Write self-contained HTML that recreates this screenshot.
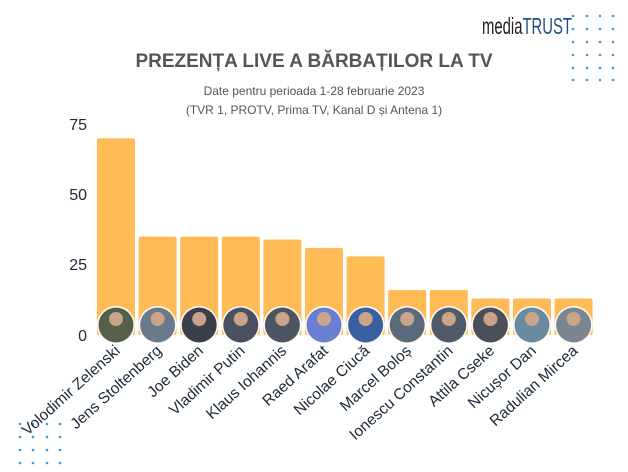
<!DOCTYPE html>
<html><head><meta charset="utf-8"><style>
body{margin:0;background:#fff}
svg{display:block}
</style></head><body>
<svg width="628" height="472" viewBox="0 0 628 472" xmlns="http://www.w3.org/2000/svg" font-family="Liberation Sans, sans-serif">
<rect width="628" height="472" fill="#fff"/>
<text x="482" y="34" font-size="23" textLength="90" lengthAdjust="spacingAndGlyphs"><tspan fill="#222">media</tspan><tspan fill="#1f4e8c">TRUST</tspan></text>
<g fill="#3a9ad9">
<circle cx="573" cy="16" r="1.3"/><circle cx="587" cy="16" r="1.3"/><circle cx="600" cy="16" r="1.3"/><circle cx="613" cy="16" r="1.3"/>
<circle cx="573" cy="29" r="1.3"/><circle cx="587" cy="29" r="1.3"/><circle cx="600" cy="29" r="1.3"/><circle cx="613" cy="29" r="1.3"/>
<circle cx="573" cy="42" r="1.3"/><circle cx="587" cy="42" r="1.3"/><circle cx="600" cy="42" r="1.3"/><circle cx="613" cy="42" r="1.3"/>
<circle cx="573" cy="55" r="1.3"/><circle cx="587" cy="55" r="1.3"/><circle cx="600" cy="55" r="1.3"/><circle cx="613" cy="55" r="1.3"/>
<circle cx="573" cy="68" r="1.3"/><circle cx="587" cy="68" r="1.3"/><circle cx="600" cy="68" r="1.3"/><circle cx="613" cy="68" r="1.3"/>
<circle cx="573" cy="80" r="1.3"/><circle cx="587" cy="80" r="1.3"/><circle cx="600" cy="80" r="1.3"/><circle cx="613" cy="80" r="1.3"/>
<circle cx="20" cy="424" r="1.3"/><circle cx="33" cy="424" r="1.3"/><circle cx="47" cy="424" r="1.3"/><circle cx="60" cy="424" r="1.3"/>
<circle cx="20" cy="437" r="1.3"/><circle cx="33" cy="437" r="1.3"/><circle cx="47" cy="437" r="1.3"/><circle cx="60" cy="437" r="1.3"/>
<circle cx="20" cy="450" r="1.3"/><circle cx="33" cy="450" r="1.3"/><circle cx="47" cy="450" r="1.3"/><circle cx="60" cy="450" r="1.3"/>
<circle cx="20" cy="463" r="1.3"/><circle cx="33" cy="463" r="1.3"/><circle cx="47" cy="463" r="1.3"/><circle cx="60" cy="463" r="1.3"/>
</g>
<text x="314" y="67" text-anchor="middle" font-size="19" font-weight="bold" fill="#555">PREZENȚA LIVE A BĂRBAȚILOR LA TV</text>
<text x="314" y="95" text-anchor="middle" font-size="12" fill="#555">Date pentru perioada 1-28 februarie 2023</text>
<text x="314" y="114" text-anchor="middle" font-size="12" fill="#555">(TVR 1, PROTV, Prima TV, Kanal D și Antena 1)</text>
<g font-size="16" fill="#1c2a3a" text-anchor="end">
<text x="87" y="130">75</text><text x="87" y="200">50</text><text x="87" y="270">25</text><text x="87" y="341">0</text>
</g>
<g id="bars" fill="#ffbb55"></g>
<g id="pics"></g>
<g id="labels" font-size="15.5" fill="#1c2a3a" text-anchor="end"></g>
<script>
(function(){
var names=["Volodimir Zelenski","Jens Stoltenberg","Joe Biden","Vladimir Putin","Klaus Iohannis","Raed Arafat","Nicolae Ciucă","Marcel Boloș","Ionescu Constantin","Attila Cseke","Nicușor Dan","Radulian Mircea"];
var vals=[70,35,35,35,34,31,28,16,16,13,13,13];
var cols=["#55604a","#6a7a8a","#3a3f4a","#4a5060","#4d5565","#6a7fd0","#3a5fa0","#5a6a7a","#505a66","#4a4f58","#6a8aa0","#7a8590"];
var ns="http://www.w3.org/2000/svg";
function el(n,a,p){var e=document.createElementNS(ns,n);for(var k in a)e.setAttribute(k,a[k]);document.getElementById(p).appendChild(e);return e;}
for(var i=0;i<12;i++){
 var x=97+i*41.6, cx=x+19, ty=335-vals[i]*2.81;
 el("rect",{x:x,y:ty,width:38,height:335-ty,rx:2},"bars");
 el("circle",{cx:cx,cy:325,r:19,fill:"#fff"},"pics");
 el("circle",{cx:cx,cy:325,r:17.5,fill:cols[i]},"pics");
 el("circle",{cx:cx,cy:319,r:7,fill:"#c9a48a"},"pics");
 var t=el("text",{transform:"translate("+(cx+5)+",352) rotate(-42)"},"labels");
 t.textContent=names[i];
}
})();
</script>
</svg>
</body></html>
